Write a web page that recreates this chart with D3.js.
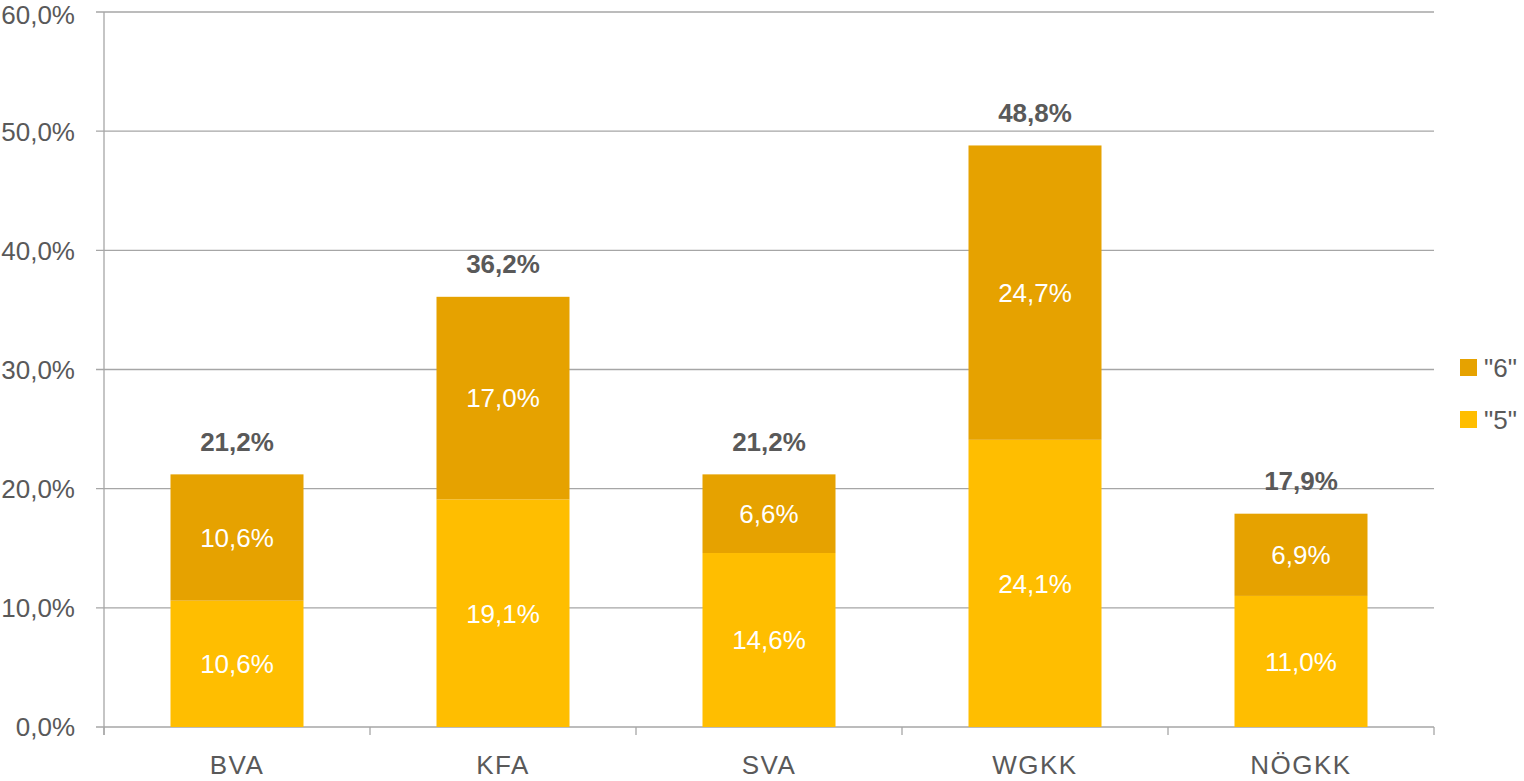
<!DOCTYPE html>
<html>
<head>
<meta charset="utf-8">
<script src="https://cdn.jsdelivr.net/npm/d3@7"></script>
<style>
  body { margin: 0; background: #fff; }
  svg text { font-family: "Liberation Sans", "DejaVu Sans", sans-serif; }
</style>
</head>
<body>
<svg id="chart" width="1524" height="781"></svg>
<script>
var categories = ["BVA", "KFA", "SVA", "WGKK", "NÖGKK"];
var series5 = [10.6, 19.1, 14.6, 24.1, 11.0];
var series6 = [10.6, 17.0, 6.6, 24.7, 6.9];
var totals = [21.2, 36.2, 21.2, 48.8, 17.9];
var yTicks = [0, 10, 20, 30, 40, 50, 60];
var legendItems = [{ name: '"6"', key: "s6" }, { name: '"5"', key: "s5" }];

var colors = { s5: "#FFBE00", s6: "#E6A200" };
var fmt = function (v) { return v.toFixed(1).replace(".", ",") + "%"; };

var svg = d3.select("#chart");
var padL = 104, padR = 1434, padT = 12, padB = 727;
var fs = 26;

var x = d3.scaleBand().domain(categories).range([padL, padR]).paddingInner(0.5).paddingOuter(0.25);
var y = d3.scaleLinear().domain([0, 60]).range([padB, padT]);

// gridlines
svg.append("g")
  .selectAll("line")
  .data(yTicks)
  .enter()
  .append("line")
  .attr("x1", padL - 8)
  .attr("x2", padR)
  .attr("y1", function (d) { return y(d); })
  .attr("y2", function (d) { return y(d); })
  .attr("stroke", "#A6A6A6")
  .attr("stroke-width", 1.3);

// y labels (top one nudged so it is not clipped)
svg.append("g")
  .selectAll("text")
  .data(yTicks)
  .enter()
  .append("text")
  .text(function (d) { return fmt(d); })
  .attr("x", 75)
  .attr("y", function (d) { return y(d) + (d === 60 ? 2.5 : 0); })
  .attr("dy", "0.36em")
  .attr("text-anchor", "end")
  .attr("font-size", fs)
  .attr("fill", "#595959");

// stacked data
var rows = categories.map(function (c, i) {
  return { cat: c, s5: series5[i], s6: series6[i], total: totals[i] };
});
var stack = d3.stack().keys(["s5", "s6"]);
var layers = stack(rows);

var g = svg.append("g");
layers.forEach(function (layer) {
  g.selectAll(null)
    .data(layer)
    .enter()
    .append("rect")
    .attr("x", function (d) { return x(d.data.cat); })
    .attr("width", x.bandwidth())
    .attr("y", function (d) { return y(d[1]); })
    .attr("height", function (d) { return y(d[0]) - y(d[1]); })
    .attr("fill", colors[layer.key]);

  g.selectAll(null)
    .data(layer)
    .enter()
    .append("text")
    .text(function (d) { return fmt(d.data[layer.key]); })
    .attr("x", function (d) { return x(d.data.cat) + x.bandwidth() / 2; })
    .attr("y", function (d) { return (y(d[0]) + y(d[1])) / 2; })
    .attr("dy", "0.36em")
    .attr("text-anchor", "middle")
    .attr("font-size", fs)
    .attr("fill", "#fff");
});

// totals
g.selectAll(null)
  .data(rows)
  .enter()
  .append("text")
  .text(function (d) { return fmt(d.total); })
  .attr("x", function (d) { return x(d.cat) + x.bandwidth() / 2; })
  .attr("y", function (d) { return y(d.s5 + d.s6) - 33; })
  .attr("dy", "0.36em")
  .attr("text-anchor", "middle")
  .attr("font-size", fs)
  .attr("font-weight", "bold")
  .attr("fill", "#595959");

// axis lines
svg.append("line")
  .attr("x1", padL).attr("x2", padL)
  .attr("y1", padT).attr("y2", padB + 8)
  .attr("stroke", "#A6A6A6").attr("stroke-width", 1.3);

var step = (padR - padL) / categories.length;
svg.append("g")
  .selectAll("line")
  .data(d3.range(categories.length + 1))
  .enter()
  .append("line")
  .attr("x1", function (d) { return padL + d * step; })
  .attr("x2", function (d) { return padL + d * step; })
  .attr("y1", padB)
  .attr("y2", padB + 8)
  .attr("stroke", "#A6A6A6").attr("stroke-width", 1.3);

// category labels
svg.append("g")
  .selectAll("text")
  .data(categories)
  .enter()
  .append("text")
  .text(function (d) { return d; })
  .attr("x", function (d) { return x(d) + x.bandwidth() / 2; })
  .attr("y", 765)
  .attr("dy", "0.36em")
  .attr("text-anchor", "middle")
  .attr("font-size", fs)
  .attr("letter-spacing", 1.5)
  .attr("fill", "#595959");

// legend
var legend = svg.append("g")
  .selectAll("g")
  .data(legendItems)
  .enter()
  .append("g")
  .attr("transform", function (d, i) { return "translate(1460," + (359 + i * 52) + ")"; });
legend.append("rect")
  .attr("width", 17).attr("height", 17)
  .attr("fill", function (d) { return colors[d.key]; });
legend.append("text")
  .text(function (d) { return d.name; })
  .attr("x", 24)
  .attr("y", 8.5)
  .attr("dy", "0.36em")
  .attr("font-size", fs)
  .attr("fill", "#595959");
</script>
</body>
</html>
